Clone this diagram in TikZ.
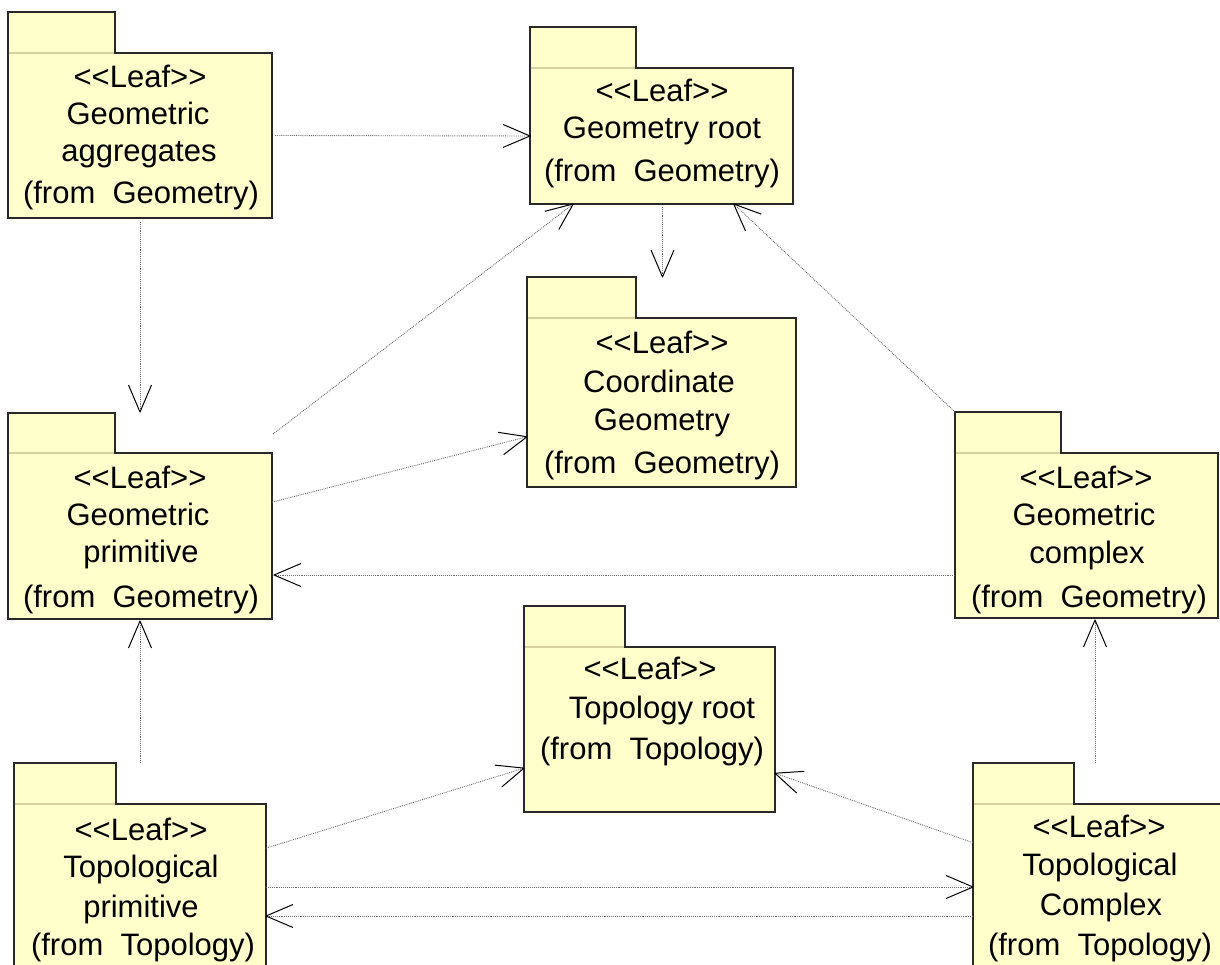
\documentclass[tikz,border=0pt]{standalone}
\usepackage{fontspec}
\setmainfont{Liberation Sans}
\usetikzlibrary{arrows.meta}
\definecolor{pkgfill}{RGB}{255,255,204}
\definecolor{pkgline}{RGB}{40,40,40}
\definecolor{tabsep}{RGB}{214,210,160}
\definecolor{depline}{RGB}{110,110,110}
\pgfdeclarearrow{
  name = OpenV,
  parameters = {\the\pgfarrowlength,\the\pgfarrowwidth},
  setup code = {
    \pgfarrowssettipend{0pt}
    \pgfarrowssetlineend{-1pt}
    \pgfarrowssetbackend{-\pgfarrowlength}
    \pgfarrowsupperhullpoint{-\pgfarrowlength}{.5\pgfarrowwidth}
    \pgfarrowshullpoint{0pt}{0pt}
    \pgfarrowssavethe\pgfarrowlength
    \pgfarrowssavethe\pgfarrowwidth
  },
  drawing code = {
    \pgfsetdash{}{0pt}
    \pgfsetlinewidth{1pt}
    \pgfsetroundjoin
    \pgfsetstrokecolor{black}
    \pgfpathmoveto{\pgfqpoint{-\pgfarrowlength}{.5\pgfarrowwidth}}
    \pgfpathlineto{\pgfpointorigin}
    \pgfpathlineto{\pgfqpoint{-\pgfarrowlength}{-.5\pgfarrowwidth}}
    \pgfusepathqstroke
  },
  defaults = {length = 27pt, width = 23pt}
}
\newcommand\leafst{<\kern0pt<Leaf>\kern0pt>}
% name, left, tabright, tabtop, bodytop, right, bottom
\newcommand\umlpkg[7]{%
  \node[pkgbody, minimum width={#6-#2}, minimum height={#7-#5}, anchor=north west] (#1) at (#2,#5) {};
  \node[pkgtab, minimum width={#3-#2}, minimum height={#5-#4}, anchor=south west] (#1tab) at (#2,#5) {};
  \draw[tabsepline] ([xshift=0.6pt]#1tab.south west) -- ([xshift=-0.6pt]#1tab.south east);
}
\newcommand\pkgtext[4]{\node[pkgtxt] (#1) at (#2,#3) {#4};}
\begin{document}
\begin{tikzpicture}[x=1pt,y=-1pt,
  pkgbody/.style={rectangle, draw=pkgline, fill=pkgfill, line width=1.1pt, inner sep=0pt, outer sep=0pt},
  pkgtab/.style={pkgbody},
  tabsepline/.style={draw=tabsep, line width=1.1pt},
  pkgtxt/.style={font=\fontsize{31}{37}\selectfont, inner sep=0pt, anchor=base, text=black},
  dep/.style={draw=depline, line width=0.9pt, densely dotted, -{OpenV}}]
\useasboundingbox (0,0) rectangle (1220,965);
\clip (0,0) rectangle (1220,965);
\fill[white] (0,0) rectangle (1220,965);

\umlpkg{gaggr}{8}{115}{12}{53}{272}{218}
\umlpkg{groot}{530}{636}{27}{68}{793}{204}
\umlpkg{coord}{527}{636}{277}{318}{796}{487}
\umlpkg{gprim}{8}{115}{413}{453}{272}{619}
\umlpkg{gcplx}{955}{1061}{412}{453}{1218}{618}
\umlpkg{troot}{524}{625}{606}{647}{775}{812}
\umlpkg{tprim}{14}{116}{763}{804}{266}{970}
\umlpkg{tcplx}{973}{1074}{763}{804}{1227}{970}

\pkgtext{gaggr1}{140}{88}{\leafst}
\pkgtext{gaggr2}{138}{125}{Geometric}
\pkgtext{gaggr3}{139}{162}{aggregates}
\pkgtext{gaggr4}{141}{204}{(from~~Geometry)}

\pkgtext{groot1}{662}{102}{\leafst}
\pkgtext{groot2}{662}{139}{Geometry root}
\pkgtext{groot3}{662}{182}{(from~~Geometry)}

\pkgtext{coord1}{662}{353}{\leafst}
\pkgtext{coord2}{659}{392}{Coordinate}
\pkgtext{coord3}{662}{430}{Geometry}
\pkgtext{coord4}{662}{473}{(from~~Geometry)}

\pkgtext{gprim1}{140}{488}{\leafst}
\pkgtext{gprim2}{138}{525}{Geometric}
\pkgtext{gprim3}{141}{562}{primitive}
\pkgtext{gprim4}{141}{607}{(from~~Geometry)}

\pkgtext{gcplx1}{1086}{488}{\leafst}
\pkgtext{gcplx2}{1084}{525}{Geometric}
\pkgtext{gcplx3}{1087}{563}{complex}
\pkgtext{gcplx4}{1089}{607}{(from~~Geometry)}

\pkgtext{troot1}{650}{679}{\leafst}
\pkgtext{troot2}{662}{718}{Topology root}
\pkgtext{troot3}{652}{759}{(from~~Topology)}

\pkgtext{tprim1}{141}{840}{\leafst}
\pkgtext{tprim2}{141}{877}{Topological}
\pkgtext{tprim3}{141}{917}{primitive}
\pkgtext{tprim4}{143}{955}{(from~~Topology)}

\pkgtext{tcplx1}{1099}{837}{\leafst}
\pkgtext{tcplx2}{1100}{875}{Topological}
\pkgtext{tcplx3}{1101}{915}{Complex}
\pkgtext{tcplx4}{1100}{955}{(from~~Topology)}

\draw[dep] ([xshift=3pt]gaggr.east) -- (groot.west);
\draw[dep] ([yshift=-4pt]gaggr.south) -- ([yshift=41pt]gprim.north);
\draw[dep] ([xshift=1pt,yshift=102pt]gprim.east) -- (groot);
\draw[dep] (gprim) -- (coord);
\draw[dep] ([xshift=1pt,yshift=-3pt]groot.south) -- ([xshift=1pt,yshift=41pt]coord.north);
\draw[dep] (gcplxtab.north west) -- (groot);
\draw[dep] ([yshift=-39.5pt]gcplx.west) -- ([xshift=2pt,yshift=-39pt]gprim.east);
\draw[dep] ([yshift=41pt]tprim.north) -- ([yshift=-2pt]gprim.south);
\draw[dep] (tprim) -- (troot);
\draw[dep] (tprim) -- (tcplx);
\draw[dep] ([yshift=-29pt]tcplx.west) -- ([yshift=-29pt]tprim.east);
\draw[dep] (tcplx) -- (troot);
\draw[dep] ([xshift=-5pt,yshift=41pt]tcplx.north) -- ([xshift=8.5pt,yshift=-2pt]gcplx.south);
\end{tikzpicture}
\end{document}
